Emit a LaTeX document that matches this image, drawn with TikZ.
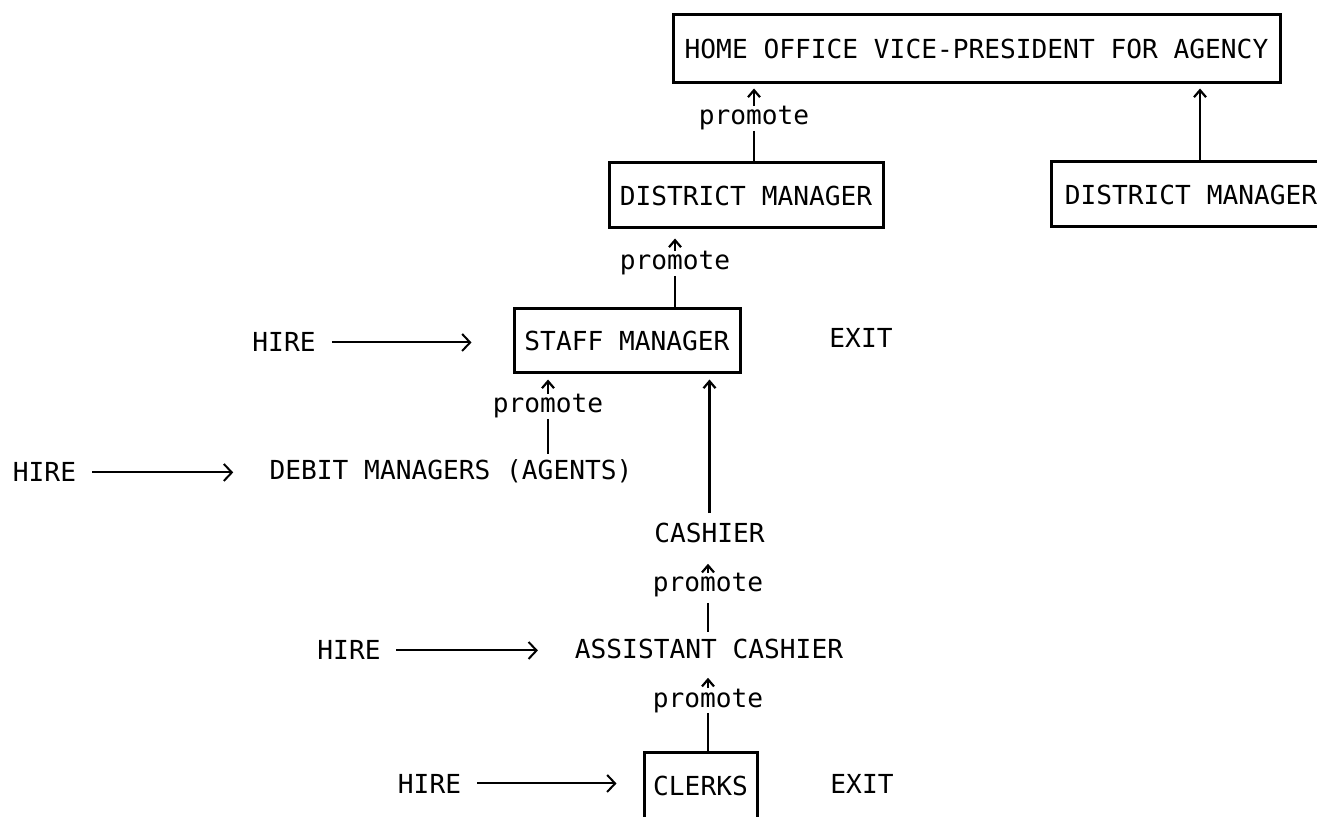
\documentclass[tikz,border=0pt]{standalone}
\usepackage{fontspec}
\setmonofont{DejaVu Sans Mono}
\usetikzlibrary{arrows.meta}
\begin{document}
\begin{tikzpicture}[x=0.5pt,y=-0.5pt,
  every node/.style={font=\ttfamily\fontsize{13.1}{15}\selectfont, inner sep=0pt},
  box/.style={draw, line width=1.5pt},
  lbl/.style={anchor=base},
  link/.style={line width=1.1pt},
  up/.style={line width=1.1pt, -{Straight Barb[length=3.5pt,width=6pt]}},
  hire/.style={line width=1pt, -{Straight Barb[length=4pt,width=8.5pt]}},
]
\useasboundingbox (0,0) rectangle (1317,817);
\clip (0,0) rectangle (1317,817);

% boxed positions
\node[box, minimum width=303.5pt, minimum height=34pt] (vp) at (976.5,49) {HOME OFFICE VICE-PRESIDENT FOR AGENCY};
\node[box, minimum width=137pt, minimum height=32.5pt] (dm1) at (746,195.5) {DISTRICT MANAGER};
\node[box, minimum width=140pt, minimum height=32.5pt] (dm2) at (1191,194.5) {DISTRICT MANAGER};
\node[box, minimum width=113pt, minimum height=32pt] (staff) at (627,341) {STAFF MANAGER};
\node[box, minimum width=56.5pt, minimum height=34pt] (clerks) at (700.5,786) {CLERKS};

% unboxed positions
\node[lbl] (debit) at (451,480) {DEBIT MANAGERS (AGENTS)};
\node[lbl] (cashier) at (709.5,543) {CASHIER};
\node[lbl] (asst) at (709,659) {ASSISTANT CASHIER};
\node[lbl] (exit1) at (861,348) {EXIT};
\node[lbl] (exit2) at (862,793) {EXIT};

% hiring entry points
\node[lbl] (hire1) at (284,352) {HIRE};
\node[lbl] (hire2) at (44.5,482) {HIRE};
\node[lbl] (hire3) at (349,660) {HIRE};
\node[lbl] (hire4) at (429.5,793) {HIRE};

% promotion labels
\node[lbl] (p1) at (754,125) {promote};
\node[lbl] (p2) at (675,270) {promote};
\node[lbl] (p3) at (548,413) {promote};
\node[lbl] (p4) at (708,592) {promote};
\node[lbl] (p5) at (708,707) {promote};

% promotion paths
\draw[link] (p1.south) -- (p1.south |- dm1.north);
\draw[up, shorten >=2pt] (p1.north) -- (p1.north |- vp.south);
\draw[up, shorten >=2pt] ([xshift=4.5pt]dm2.north) -- ([xshift=4.5pt]dm2.north |- vp.south);

\draw[link] (p2.south) -- (p2.south |- staff.north);
\draw[up, shorten >=4.5pt] (p2.north) -- (p2.north |- dm1.south);

\draw[link, shorten >=3pt] (p3.south) -- (p3.south |- debit.north);
\draw[up, shorten >=2.5pt] (p3.north) -- (p3.north |- staff.south);

\draw[up, shorten <=5pt, shorten >=2.5pt] (cashier.north) -- (cashier.north |- staff.south);

\draw[link, shorten <=2.5pt, shorten >=3.5pt] (p4.south) -- (p4.south |- asst.north);
\draw[up, shorten >=10pt] (p4.north) -- (p4.north |- cashier.south);

\draw[link] (p5.south) -- (p5.south |- clerks.north);
\draw[up, shorten >=9pt] (p5.north) -- (p5.north |- asst.south);

% hiring arrows
\draw[hire, shorten <=8pt, shorten >=20.5pt] (hire1.east) -- (hire1.east -| staff.west);
\draw[hire, shorten <=8pt, shorten >=18pt] (hire2.east) -- (hire2.east -| debit.west);
\draw[hire, shorten <=7.7pt, shorten >=18.3pt] (hire3.east) -- (hire3.east -| asst.west);
\draw[hire, shorten <=8pt, shorten >=13pt] (hire4.east) -- (hire4.east -| clerks.west);
\end{tikzpicture}
\end{document}
